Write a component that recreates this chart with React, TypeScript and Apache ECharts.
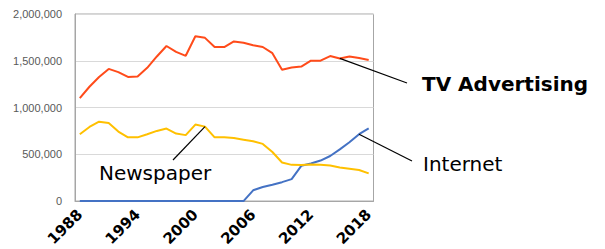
import React, { useEffect, useRef } from "react";
import * as echarts from "echarts";

const years = [
  "1988", "1989", "1990", "1991", "1992", "1993", "1994", "1995", "1996", "1997",
  "1998", "1999", "2000", "2001", "2002", "2003", "2004", "2005", "2006", "2007",
  "2008", "2009", "2010", "2011", "2012", "2013", "2014", "2015", "2016", "2017", "2018",
];

const tvAdvertising = [
  1100000, 1222000, 1327000, 1413000, 1379000, 1327000, 1333000, 1424000, 1546000, 1658000,
  1595000, 1553000, 1762000, 1745000, 1647000, 1647000, 1707000, 1693000, 1665000, 1647000,
  1581000, 1403000, 1427000, 1438000, 1501000, 1501000, 1550000, 1525000, 1546000, 1529000, 1508000,
];

const newspaper = [
  715000, 792000, 848000, 834000, 743000, 681000, 681000, 715000, 750000, 775000,
  722000, 705000, 818000, 796000, 681000, 681000, 673000, 656000, 639000, 611000,
  524000, 412000, 387000, 386000, 391000, 388000, 380000, 359000, 346000, 332000, 296000,
];

const internet = [
  0, 0, 0, 0, 0, 0, 0, 0, 0, 0,
  0, 0, 0, 0, 0, 0, 0, 0, 115000, 150000,
  175000, 202000, 234000, 377000, 401000, 433000, 482000, 552000, 628000, 715000, 778000,
];

const yTicks = [0, 500000, 1000000, 1500000, 2000000];

// annotation anchors: series data, category index, label end point, text position
const annotations = [
  { name: "TV Advertising", data: tvAdvertising, idx: 27, end: [407, 83], text: [422, 84], bold: true },
  { name: "Internet", data: internet, idx: 29, end: [412, 161], text: [423, 163.5], bold: false },
  { name: "Newspaper", data: newspaper, idx: 13, end: [173, 160], text: [99, 172.5], bold: false },
];

export default function App() {
  const ref = useRef<HTMLDivElement>(null);
  useEffect(() => {
    if (!ref.current) return;
    const chart = echarts.init(ref.current, undefined, { renderer: "svg" });
    chart.setOption({
      animation: false,
      backgroundColor: "#ffffff",
      grid: {
        left: 75,
        top: 14,
        right: 231.5,
        bottom: 44,
        show: true,
        borderColor: "#A6A6A6",
        borderWidth: 1,
      },
      xAxis: {
        type: "category",
        data: years,
        boundaryGap: true,
        axisLine: { show: true, lineStyle: { color: "#A6A6A6", width: 1 } },
        axisTick: { show: false },
        axisLabel: {
          interval: 5,
          rotate: 45,
          margin: 11,
          color: "#000000",
          fontSize: 15,
          fontWeight: "bold",
          fontFamily: "DejaVu Sans",
        },
      },
      yAxis: {
        type: "value",
        min: 0,
        max: 2000000,
        interval: 500000,
        axisLine: { show: true, lineStyle: { color: "#A6A6A6", width: 1 } },
        axisTick: { show: false },
        splitLine: { show: true, lineStyle: { color: "#D9D9D9", width: 1 } },
        axisLabel: {
          margin: 13,
          color: "#595959",
          fontSize: 11,
          fontFamily: "Liberation Sans",
          formatter: (v: number) => (yTicks.includes(v) ? v.toLocaleString("en-US") : ""),
        },
      },
      series: [
        {
          name: "Internet",
          type: "line",
          data: internet,
          symbol: "none",
          lineStyle: { color: "#4472C4", width: 2 },
          z: 3,
        },
        {
          name: "Newspaper",
          type: "line",
          data: newspaper,
          symbol: "none",
          lineStyle: { color: "#FFC000", width: 2 },
          z: 3,
        },
        {
          name: "TV Advertising",
          type: "line",
          data: tvAdvertising,
          symbol: "none",
          lineStyle: { color: "#FF4B1A", width: 2 },
          z: 4,
        },
      ],
    });

    const graphic: any[] = [];
    annotations.forEach((a) => {
      const p = chart.convertToPixel({ gridIndex: 0 }, [a.idx, a.data[a.idx]]) as number[];
      graphic.push({
        type: "line",
        shape: { x1: p[0], y1: p[1], x2: a.end[0], y2: a.end[1] },
        style: { stroke: "#000000", lineWidth: 1.2 },
        z: 10,
      });
      graphic.push({
        type: "text",
        x: a.text[0],
        y: a.text[1],
        style: {
          text: a.name,
          fill: "#000000",
          font: `${a.bold ? "bold " : ""}20px "DejaVu Sans"`,
          textAlign: "left",
          textVerticalAlign: "middle",
        },
        z: 10,
      });
    });
    chart.setOption({ graphic });

    return () => chart.dispose();
  }, []);
  return (
    <div
      ref={ref}
      style={{ position: "fixed", left: 0, top: 0, width: 605, height: 249 }}
    />
  );
}
